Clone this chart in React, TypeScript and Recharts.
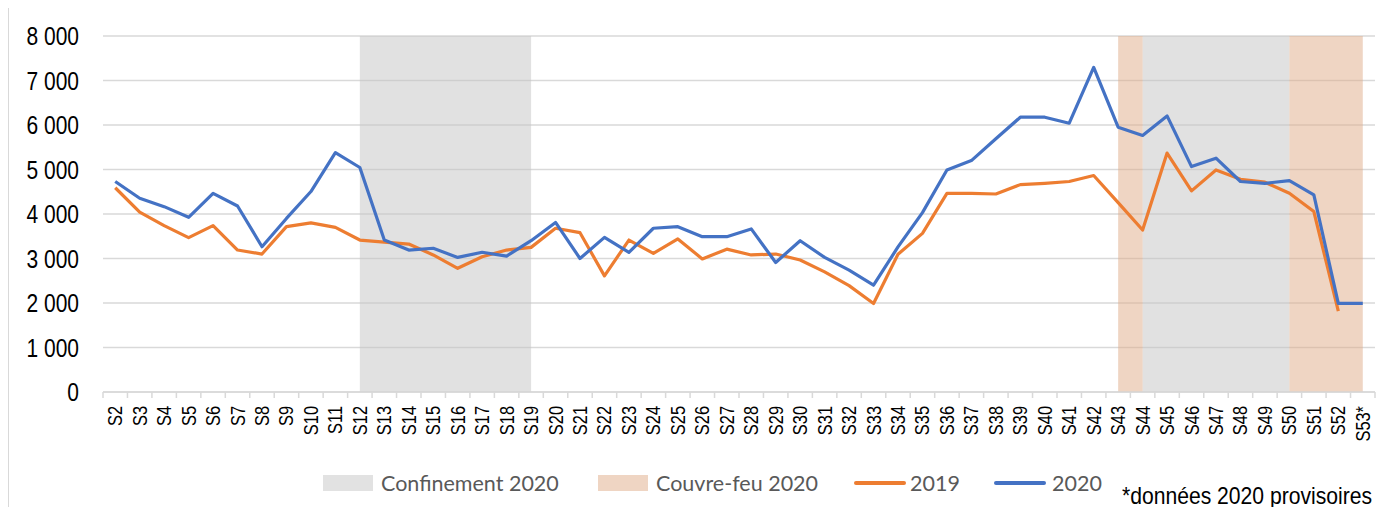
import { LineChart, Line, XAxis, YAxis, CartesianGrid, ReferenceArea } from 'recharts'

const weeks = [
  'S2', 'S3', 'S4', 'S5', 'S6', 'S7', 'S8', 'S9', 'S10', 'S11', 'S12', 'S13', 'S14', 'S15', 'S16', 'S17', 'S18',
  'S19', 'S20', 'S21', 'S22', 'S23', 'S24', 'S25', 'S26', 'S27', 'S28', 'S29', 'S30', 'S31', 'S32', 'S33', 'S34',
  'S35', 'S36', 'S37', 'S38', 'S39', 'S40', 'S41', 'S42', 'S43', 'S44', 'S45', 'S46', 'S47', 'S48', 'S49', 'S50',
  'S51', 'S52', 'S53*',
]

const values2019 = [
  4590, 4040, 3740, 3470, 3740, 3190, 3100, 3715, 3800, 3700, 3415, 3370, 3325, 3080, 2780, 3040, 3190,
  3250, 3680, 3580, 2610, 3415, 3115, 3440, 2990, 3210, 3080, 3100, 2965, 2700, 2390, 1990, 3095,
  3565, 4465, 4465, 4450, 4660, 4690, 4730, 4865, 4255, 3640, 5370, 4520, 4990, 4780, 4715, 4465,
  4055, 1815, null,
]

const values2020 = [
  4730, 4355, 4165, 3925, 4465, 4180, 3265, 3900, 4505, 5380, 5045, 3415, 3190, 3230, 3025, 3140, 3055,
  3400, 3810, 3000, 3475, 3140, 3680, 3715, 3490, 3490, 3665, 2910, 3400, 3025, 2740, 2400, 3260,
  4030, 4990, 5200, 5690, 6175, 6175, 6040, 7295, 5950, 5765, 6205, 5065, 5255, 4730, 4690, 4750,
  4430, 1990, 1990,
]

const yTicks = [0, 1000, 2000, 3000, 4000, 5000, 6000, 7000, 8000]

const confinement = [['S12', 'S19'], ['S44', 'S50']]
const couvreFeu = [['S43', 'S44'], ['S50', 'S53*']]

const data = weeks.map((w, i) => ({ week: w, y2019: values2019[i], y2020: values2020[i] }))

// no Arial Narrow here: squeeze Liberation Sans instead
const sans = "'Liberation Sans', Arial, sans-serif"
const legendFont = "Lato, 'Open Sans', sans-serif"

const HALF = (1375 - 103) / weeks.length / 2

const fmt = (v: number) => String(v).replace(/\B(?=(\d{3})+(?!\d))/g, ' ')

const WeekTick = (props: any) => {
  const { x, y, payload, index } = props
  return (
    <g>
      <line x1={x - HALF} x2={x - HALF} y1={y} y2={y + 6} stroke="#d9d9d9" strokeWidth={1.5} />
      {index === weeks.length - 1 && (
        <line x1={x + HALF} x2={x + HALF} y1={y} y2={y + 6} stroke="#d9d9d9" strokeWidth={1.5} />
      )}
      <text
        transform={`translate(${x},${y + 14}) rotate(-90) scale(0.82,1)`}
        textAnchor="end"
        dy="0.35em"
        fontSize={20}
        fontFamily={sans}
        fill="#000"
      >
        {payload.value}
      </text>
    </g>
  )
}

const ValueTick = (props: any) => {
  const { x, y, payload } = props
  return (
    <text
      transform={`translate(${x},${y}) scale(0.84,1)`}
      textAnchor="end"
      dy="0.36em"
      fontSize={25}
      fontFamily={sans}
      fill="#000"
    >
      {fmt(payload.value)}
    </text>
  )
}

const swatch = (left: number, color: string) => (
  <div style={{ position: 'absolute', left, top: 475, width: 50, height: 16, background: color }} />
)
const lineSwatch = (left: number, color: string) => (
  <div style={{ position: 'absolute', left, top: 481, width: 52, height: 4, background: color, borderRadius: 2 }} />
)
const label = (left: number, text: string) => (
  <div
    style={{
      position: 'absolute',
      left,
      top: 469,
      lineHeight: '28px',
      fontSize: 21.5,
      fontFamily: legendFont,
      color: '#595959',
      whiteSpace: 'nowrap',
    }}
  >
    {text}
  </div>
)

export default function App() {
  return (
    <div style={{ position: 'relative', margin: -8, width: 1394, height: 515, overflow: 'hidden', background: '#fff' }}>
      <div style={{ position: 'absolute', left: 7, top: 6, width: 1500, height: 600, border: '2px solid #d9d9d9' }} />
      <div style={{ position: 'absolute', left: 0, top: 0 }}>
        <LineChart width={1394} height={515} data={data} margin={{ top: 36, right: 19, left: 0, bottom: 63 }}>
          <CartesianGrid vertical={false} stroke="#d9d9d9" strokeWidth={1.5} />
          <XAxis
            dataKey="week"
            interval={0}
            height={60}
            padding={{ left: HALF, right: HALF }}
            tickSize={0}
            tickMargin={0}
            tickLine={false}
            axisLine={{ stroke: '#d9d9d9', strokeWidth: 1.5 }}
            tick={<WeekTick />}
          />
          <YAxis
            width={103}
            domain={[0, 8000]}
            ticks={yTicks}
            axisLine={false}
            tickLine={false}
            tickSize={0}
            tickMargin={24}
            tick={<ValueTick />}
          />
          {confinement.map(([a, b]) => (
            <ReferenceArea key={a} x1={a} x2={b} y1={0} y2={8000} fill="#c4c4c4" fillOpacity={0.5} />
          ))}
          {couvreFeu.map(([a, b]) => (
            <ReferenceArea key={a} x1={a} x2={b} y1={0} y2={8000} fill="#dfab87" fillOpacity={0.5} />
          ))}
          <Line
            type="linear"
            dataKey="y2019"
            stroke="#ed7d31"
            strokeWidth={3.2}
            dot={false}
            strokeLinejoin="round"
            isAnimationActive={false}
          />
          <Line
            type="linear"
            dataKey="y2020"
            stroke="#4472c4"
            strokeWidth={3.2}
            dot={false}
            strokeLinejoin="round"
            isAnimationActive={false}
          />
        </LineChart>
      </div>
      {swatch(323, '#e2e2e2')}
      {label(381, 'Confinement 2020')}
      {swatch(598, '#efd5c3')}
      {label(656, 'Couvre-feu 2020')}
      {lineSwatch(854, '#ed7d31')}
      {label(910, '2019')}
      {lineSwatch(994, '#4472c4')}
      {label(1052, '2020')}
      <div
        style={{
          position: 'absolute',
          left: 1122,
          top: 482,
          lineHeight: '28px',
          fontSize: 24,
          fontFamily: sans,
          color: '#000',
          whiteSpace: 'nowrap',
          transform: 'scaleX(0.88)',
          transformOrigin: 'left center',
        }}
      >
        *données 2020 provisoires
      </div>
    </div>
  )
}
